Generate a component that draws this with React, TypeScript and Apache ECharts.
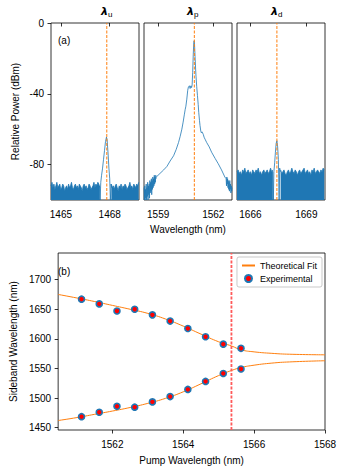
import React, { useEffect, useRef } from "react";
import * as echarts from "echarts";

// ---------- Data ----------
// Panel (a) x-ranges
const xRangeU = [1464.39, 1469.8];
const xRangeP = [1558.23, 1563.02];
const xRangeD = [1665.28, 1670.0];
const ticksU = [1465, 1468];
const ticksP = [1559, 1562];
const ticksD = [1666, 1669];
const powerTicks = [-80, -40, 0];
const powerRange = [-100, 0];
const markU = 1467.82;
const markP = 1560.97;
const markD = 1667.42;

// idler (lambda_u) spectrum: noise floor sampled from start with fixed step
const noiseULeft = [-92, -90, -93, -91, -94, -92, -90, -93, -92, -91, -94, -93, -91, -92, -95, -93, -92, -94, -91, -93, -92, -90, -93, -94, -92, -91, -93, -92, -94, -91, -92, -93, -95, -92, -91, -93, -92, -94, -93, -91, -92, -94, -93, -92, -90, -93, -91, -92, -90, -91, -93];
const peakU: [number, number][] = [[1467.38, -92], [1467.41, -100], [1467.45, -90], [1467.5, -86], [1467.56, -82], [1467.62, -77], [1467.68, -72], [1467.74, -67], [1467.8, -64.5], [1467.84, -66], [1467.9, -74], [1467.95, -82], [1468.0, -88], [1468.04, -100], [1468.08, -91], [1468.12, -93]];
const noiseURight = [-91, -93, -92, -94, -92, -91, -93, -95, -92, -93, -91, -94, -92, -93, -91, -92, -94, -93, -92, -90, -93, -92, -94, -91, -92, -93, -91, -92, -90];

// pump (lambda_p) spectrum
const noisePLeft = [-93, -100, -92, -100, -94, -99, -91, -100, -93, -98, -90, -100, -92, -97, -91, -99, -89, -96, -90, -95, -88, -97, -89, -94, -87, -93, -88, -92, -86, -91, -87, -90, -86, -88];
const pumpLine: [number, number][] = [[1558.9, -87], [1559.1, -85], [1559.3, -83], [1559.48, -81], [1559.65, -78], [1559.84, -75], [1559.98, -71.5], [1560.11, -67.5], [1560.2, -64], [1560.29, -60], [1560.36, -56], [1560.43, -51.5], [1560.47, -49], [1560.51, -47], [1560.56, -43], [1560.61, -38], [1560.65, -36], [1560.7, -35.5], [1560.74, -37], [1560.78, -35.5], [1560.82, -36.5], [1560.85, -35], [1560.88, -28], [1560.91, -18], [1560.94, -11], [1560.96, -10], [1560.98, -12], [1561.01, -19], [1561.04, -26], [1561.06, -30], [1561.1, -36], [1561.14, -41], [1561.18, -46], [1561.21, -50.5], [1561.25, -55], [1561.28, -58], [1561.32, -61], [1561.35, -62], [1561.39, -61.5], [1561.42, -61.5], [1561.46, -63], [1561.5, -64.5], [1561.57, -66], [1561.64, -67.5], [1561.78, -70], [1561.91, -73], [1562.1, -76.5], [1562.27, -79.5], [1562.45, -83], [1562.63, -87], [1562.7, -88], [1562.72, -92], [1562.74, -87], [1562.76, -91], [1562.78, -88], [1562.8, -93], [1562.82, -89], [1562.84, -94], [1562.86, -90], [1562.88, -95], [1562.9, -89], [1562.92, -94], [1562.94, -91], [1562.96, -96], [1562.98, -92], [1563.0, -95], [1563.02, -93]];

// signal (lambda_d) spectrum
const noiseDLeft = [-84, -83, -85, -84, -86, -83, -84, -82, -85, -84, -83, -85, -84, -86, -83, -84, -85, -83, -84, -82, -85, -84, -86, -84, -83, -85, -84, -83, -85, -84, -82, -84, -83];
const peakD: [number, number][] = [[1667.2, -84], [1667.23, -100], [1667.26, -84], [1667.3, -79], [1667.34, -73], [1667.38, -68], [1667.42, -66.5], [1667.46, -70], [1667.5, -77], [1667.54, -100], [1667.57, -82], [1667.6, -84]];
const noiseDRight = [-83, -85, -84, -83, -85, -86, -84, -83, -85, -84, -82, -84, -85, -83, -84, -86, -84, -83, -85, -84, -83, -82, -85, -84, -83, -85, -84, -86, -83, -84, -82, -85, -84, -83, -84, -85, -83, -84, -82, -83];

// Panel (b)
const pumpX = [1561.13, 1561.63, 1562.13, 1562.63, 1563.13, 1563.63, 1564.13, 1564.63, 1565.13, 1565.63];
const expUpper = [1667, 1659, 1647, 1650, 1640.5, 1630, 1617.5, 1603.5, 1591, 1584];
const expLower = [1468.5, 1476, 1486, 1484.5, 1493.5, 1502.5, 1514.5, 1528, 1541.5, 1549];
const fitX = [1560.47, 1561, 1561.5, 1562, 1562.5, 1563, 1563.5, 1564, 1564.5, 1565, 1565.36, 1565.63, 1566, 1566.5, 1567, 1568];
const fitUpper = [1675, 1669, 1663, 1656.5, 1650, 1643, 1633.5, 1621.5, 1608, 1595, 1588, 1581.5, 1578, 1575.5, 1574, 1573];
const fitLower = [1462, 1467, 1472.5, 1478, 1484, 1491, 1499.5, 1510.5, 1524, 1538, 1546.5, 1551.5, 1555.5, 1559, 1561, 1563];
const pumpRange = [1560.47, 1568];
const sidebandRange = [1446, 1745];
const pumpTicks = [1562, 1564, 1566, 1568];
const sidebandTicks = [1450, 1500, 1550, 1600, 1650, 1700];
const zdwMark = 1565.36;

// ---------- helpers ----------
const spread = (start: number, step: number, ys: number[]) =>
  ys.map((y, i) => [+(start + i * step).toFixed(3), y]);

const BLUE = "#1f77b4";
const ORANGE = "#ff7f0e";
const RED = "#ff5a5a";
const FONT = "Liberation Sans";
const plain = (v: number) => String(v);

export default function App() {
  const ref = useRef<HTMLDivElement>(null);

  useEffect(() => {
    document.body.style.margin = "0";
    const chart = echarts.init(ref.current!, undefined, { renderer: "svg" });

    const tickStyle = { inside: false, length: 3.5, lineStyle: { color: "#000", width: 0.8 } };
    const xLabel = { color: "#000", fontSize: 10, fontFamily: FONT, margin: 9, formatter: plain };
    const yLabel = { color: "#000", fontSize: 10, fontFamily: FONT, margin: 7, formatter: plain };
    const nameStyle = { color: "#000", fontSize: 10, fontFamily: FONT };

    const topGrid = (left: number) => ({
      left, top: 23, width: 88, height: 177, show: true,
      borderColor: "#000", borderWidth: 0.8, backgroundColor: "transparent",
    });

    const topX = (idx: number, range: number[], ticks: number[], name?: string) => ({
      type: "value", gridIndex: idx, min: range[0], max: range[1],
      axisLine: { show: false }, splitLine: { show: false },
      axisTick: { ...tickStyle, customValues: ticks },
      axisLabel: { ...xLabel, customValues: ticks },
      name: name || "", nameLocation: "middle", nameGap: 24, nameTextStyle: nameStyle,
    });

    const topY = (idx: number, showLabels: boolean) => ({
      type: "value", gridIndex: idx, min: powerRange[0], max: powerRange[1],
      axisLine: { show: false }, splitLine: { show: false },
      axisTick: showLabels ? { ...tickStyle, customValues: powerTicks } : { show: false },
      axisLabel: showLabels ? { ...yLabel, customValues: powerTicks } : { show: false },
      name: showLabels ? "Relative Power (dBm)" : "", nameLocation: "middle", nameGap: 31,
      nameTextStyle: nameStyle,
    });

    // vertical dashed line as a two-point line series spanning the axis range
    const vline = (idx: number, v: number, yr: number[], color: string, width = 1) => ({
      type: "line", xAxisIndex: idx, yAxisIndex: idx, silent: true,
      data: [[v, yr[0]], [v, yr[1]]], showSymbol: false, symbol: "none",
      lineStyle: { color, type: [3, 1.5], width, opacity: 1 }, z: 4,
    });

    const areaNoise = (idx: number, data: number[][]) => ({
      type: "line", xAxisIndex: idx, yAxisIndex: idx, data, showSymbol: false, symbol: "none",
      lineStyle: { color: BLUE, width: 0.8 }, areaStyle: { color: BLUE, opacity: 1, origin: "start" },
    });
    const lineSpec = (idx: number, data: number[][]) => ({
      type: "line", xAxisIndex: idx, yAxisIndex: idx, data, showSymbol: false, symbol: "none",
      lineStyle: { color: BLUE, width: 0.8 },
    });

    const titleRich = {
      l: { fontFamily: "DejaVu Sans", fontStyle: "oblique", fontWeight: "bold", fontSize: 11, color: "#000" },
      s: { fontFamily: FONT, fontSize: 8, color: "#000", padding: [6, 0, 0, 0] },
    };
    const lamTitle = (x: number, sub: string) => ({
      type: "text", left: x, top: 6,
      style: { text: `{l|λ}{s|${sub}}`, rich: titleRich },
    });

    const option: any = {
      animation: false,
      textStyle: { fontFamily: FONT },
      grid: [
        topGrid(51), topGrid(144), topGrid(237),
        { left: 51, top: 253, width: 274, height: 177, show: true, borderColor: "#000", borderWidth: 0.8 },
      ],
      xAxis: [
        topX(0, xRangeU, ticksU),
        topX(1, xRangeP, ticksP, "Wavelength (nm)"),
        topX(2, xRangeD, ticksD),
        {
          type: "value", gridIndex: 3, min: pumpRange[0], max: pumpRange[1],
          axisLine: { show: false }, splitLine: { show: false },
          axisTick: { ...tickStyle, customValues: pumpTicks },
          axisLabel: { ...xLabel, customValues: pumpTicks },
          name: "Pump Wavelength (nm)", nameLocation: "middle", nameGap: 25, nameTextStyle: nameStyle,
        },
      ],
      yAxis: [
        topY(0, true), topY(1, false), topY(2, false),
        {
          type: "value", gridIndex: 3, min: sidebandRange[0], max: sidebandRange[1],
          axisLine: { show: false }, splitLine: { show: false },
          axisTick: { ...tickStyle, customValues: sidebandTicks },
          axisLabel: { ...yLabel, customValues: sidebandTicks },
          name: "Sideband Wavelength (nm)", nameLocation: "middle", nameGap: 38, nameTextStyle: nameStyle,
        },
      ],
      legend: {
        data: [{ name: "Theoretical Fit", itemStyle: { opacity: 0 } }, { name: "Experimental" }],
        orient: "vertical", right: 20, top: 257,
        backgroundColor: "#fff", borderColor: "#bbb", borderWidth: 0.8, borderRadius: 2,
        padding: [4, 5, 4, 4], itemGap: 4, itemWidth: 13, itemHeight: 7,
        textStyle: { color: "#000", fontSize: 9, fontFamily: FONT },
      },
      graphic: [
        lamTitle(101, "u"),
        lamTitle(187, "p"),
        lamTitle(271, "d"),
        { type: "text", left: 58, top: 35, style: { text: "(a)", fontSize: 10, fontFamily: FONT, fill: "#000" } },
        { type: "text", left: 58, top: 266, style: { text: "(b)", fontSize: 10, fontFamily: FONT, fill: "#000" } },
      ],
      series: [
        areaNoise(0, spread(1464.39, 0.06, noiseULeft)),
        lineSpec(0, peakU),
        areaNoise(0, spread(1468.1, 0.06, noiseURight)),
        vline(0, markU, powerRange, ORANGE),
        lineSpec(1, spread(1558.23, 0.02, noisePLeft)),
        lineSpec(1, pumpLine),
        vline(1, markP, powerRange, ORANGE),
        areaNoise(2, spread(1665.28, 0.06, noiseDLeft)),
        lineSpec(2, peakD),
        areaNoise(2, spread(1667.62, 0.06, noiseDRight)),
        vline(2, markD, powerRange, ORANGE),
        {
          name: "Theoretical Fit", type: "line", xAxisIndex: 3, yAxisIndex: 3, smooth: true,
          data: fitX.map((x, i) => [x, fitUpper[i]]), showSymbol: false, symbol: "none",
          lineStyle: { color: ORANGE, width: 1 }, itemStyle: { color: ORANGE },
        },
        {
          name: "Theoretical Fit", type: "line", xAxisIndex: 3, yAxisIndex: 3, smooth: true,
          data: fitX.map((x, i) => [x, fitLower[i]]), showSymbol: false, symbol: "none",
          lineStyle: { color: ORANGE, width: 1 }, itemStyle: { color: ORANGE },
        },
        vline(3, zdwMark, sidebandRange, RED, 1.8),
        {
          name: "Experimental", type: "scatter", xAxisIndex: 3, yAxisIndex: 3, symbolSize: 6,
          data: [...pumpX.map((x, i) => [x, expUpper[i]]), ...pumpX.map((x, i) => [x, expLower[i]])],
          itemStyle: { color: "#ff0000", borderColor: BLUE, borderWidth: 1.6, opacity: 1 },
          z: 5,
        },
      ],
    };

    chart.setOption(option);
    return () => chart.dispose();
  }, []);

  return <div ref={ref} style={{ width: 342, height: 469 }} />;
}
